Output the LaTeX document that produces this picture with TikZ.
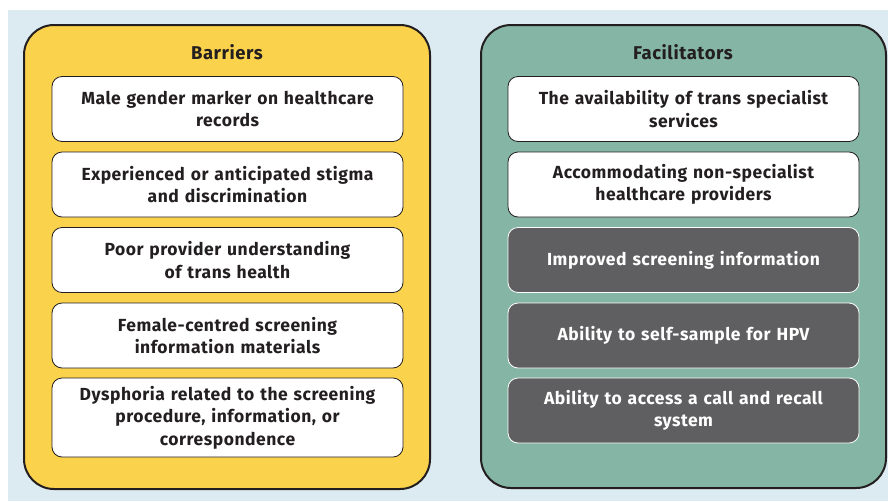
\documentclass[tikz,border=0pt]{standalone}
\usepackage{fontspec}
\setmainfont[LetterSpace=3]{Fira Sans}
\definecolor{bgblue}{HTML}{DCEAF1}
\definecolor{barY}{HTML}{FBD24B}
\definecolor{facG}{HTML}{85B5A4}
\definecolor{darkbox}{HTML}{5F5F61}
\definecolor{ink}{HTML}{231F20}
\tikzset{
  panel/.style={draw=ink, line width=2pt, rounded corners=30pt},
  item/.style={rounded corners=10pt, minimum width=351pt, minimum height=65pt,
    text width=345pt, align=center, font=\fontsize{17.5}{22.5}\selectfont\bfseries, inner sep=0pt},
  lightitem/.style={item, fill=white, draw=ink, line width=0.8pt, text=ink},
  darkitem/.style={item, fill=darkbox, draw=white, line width=0.8pt, text=white},
  head/.style={font=\fontsize{18.5}{20}\selectfont\bfseries, text=ink}
}
\begin{document}
\begin{tikzpicture}[x=1pt,y=-1pt]
\useasboundingbox (0,0) rectangle (888,501);
\fill[bgblue] (8,10) rectangle (888,501);
\draw[panel, fill=barY] (24,25) rectangle (430,489);
\draw[panel, fill=facG] (481,25) rectangle (886,488);
\node[head] (bh) at (227,52) {Barriers};
\node[head] (fh) at (683,52) {Facilitators};
\node[lightitem] (b1) at (227.5,109) {Male gender marker on healthcare\\records};
\node[lightitem] (b2) at (227.5,184.5) {Experienced or anticipated stigma\\and discrimination};
\node[lightitem] (b3) at (227.5,260) {Poor provider understanding\\of trans health};
\node[lightitem] (b4) at (227.5,335.5) {Female-centred screening\\information materials};
\node[lightitem, minimum height=79pt] (b5) at (227.5,417.5) {Dysphoria related to the screening\\procedure, information, or\\correspondence};
\node[lightitem] (f1) at (683.5,109) {The availability of trans specialist\\services};
\node[lightitem] (f2) at (683.5,184.5) {Accommodating non-specialist\\healthcare providers};
\node[darkitem] (f3) at (683.5,260) {Improved screening information};
\node[darkitem] (f4) at (683.5,335.5) {Ability to self-sample for HPV};
\node[darkitem] (f5) at (683.5,410.5) {Ability to access a call and recall\\system};
\end{tikzpicture}
\end{document}
